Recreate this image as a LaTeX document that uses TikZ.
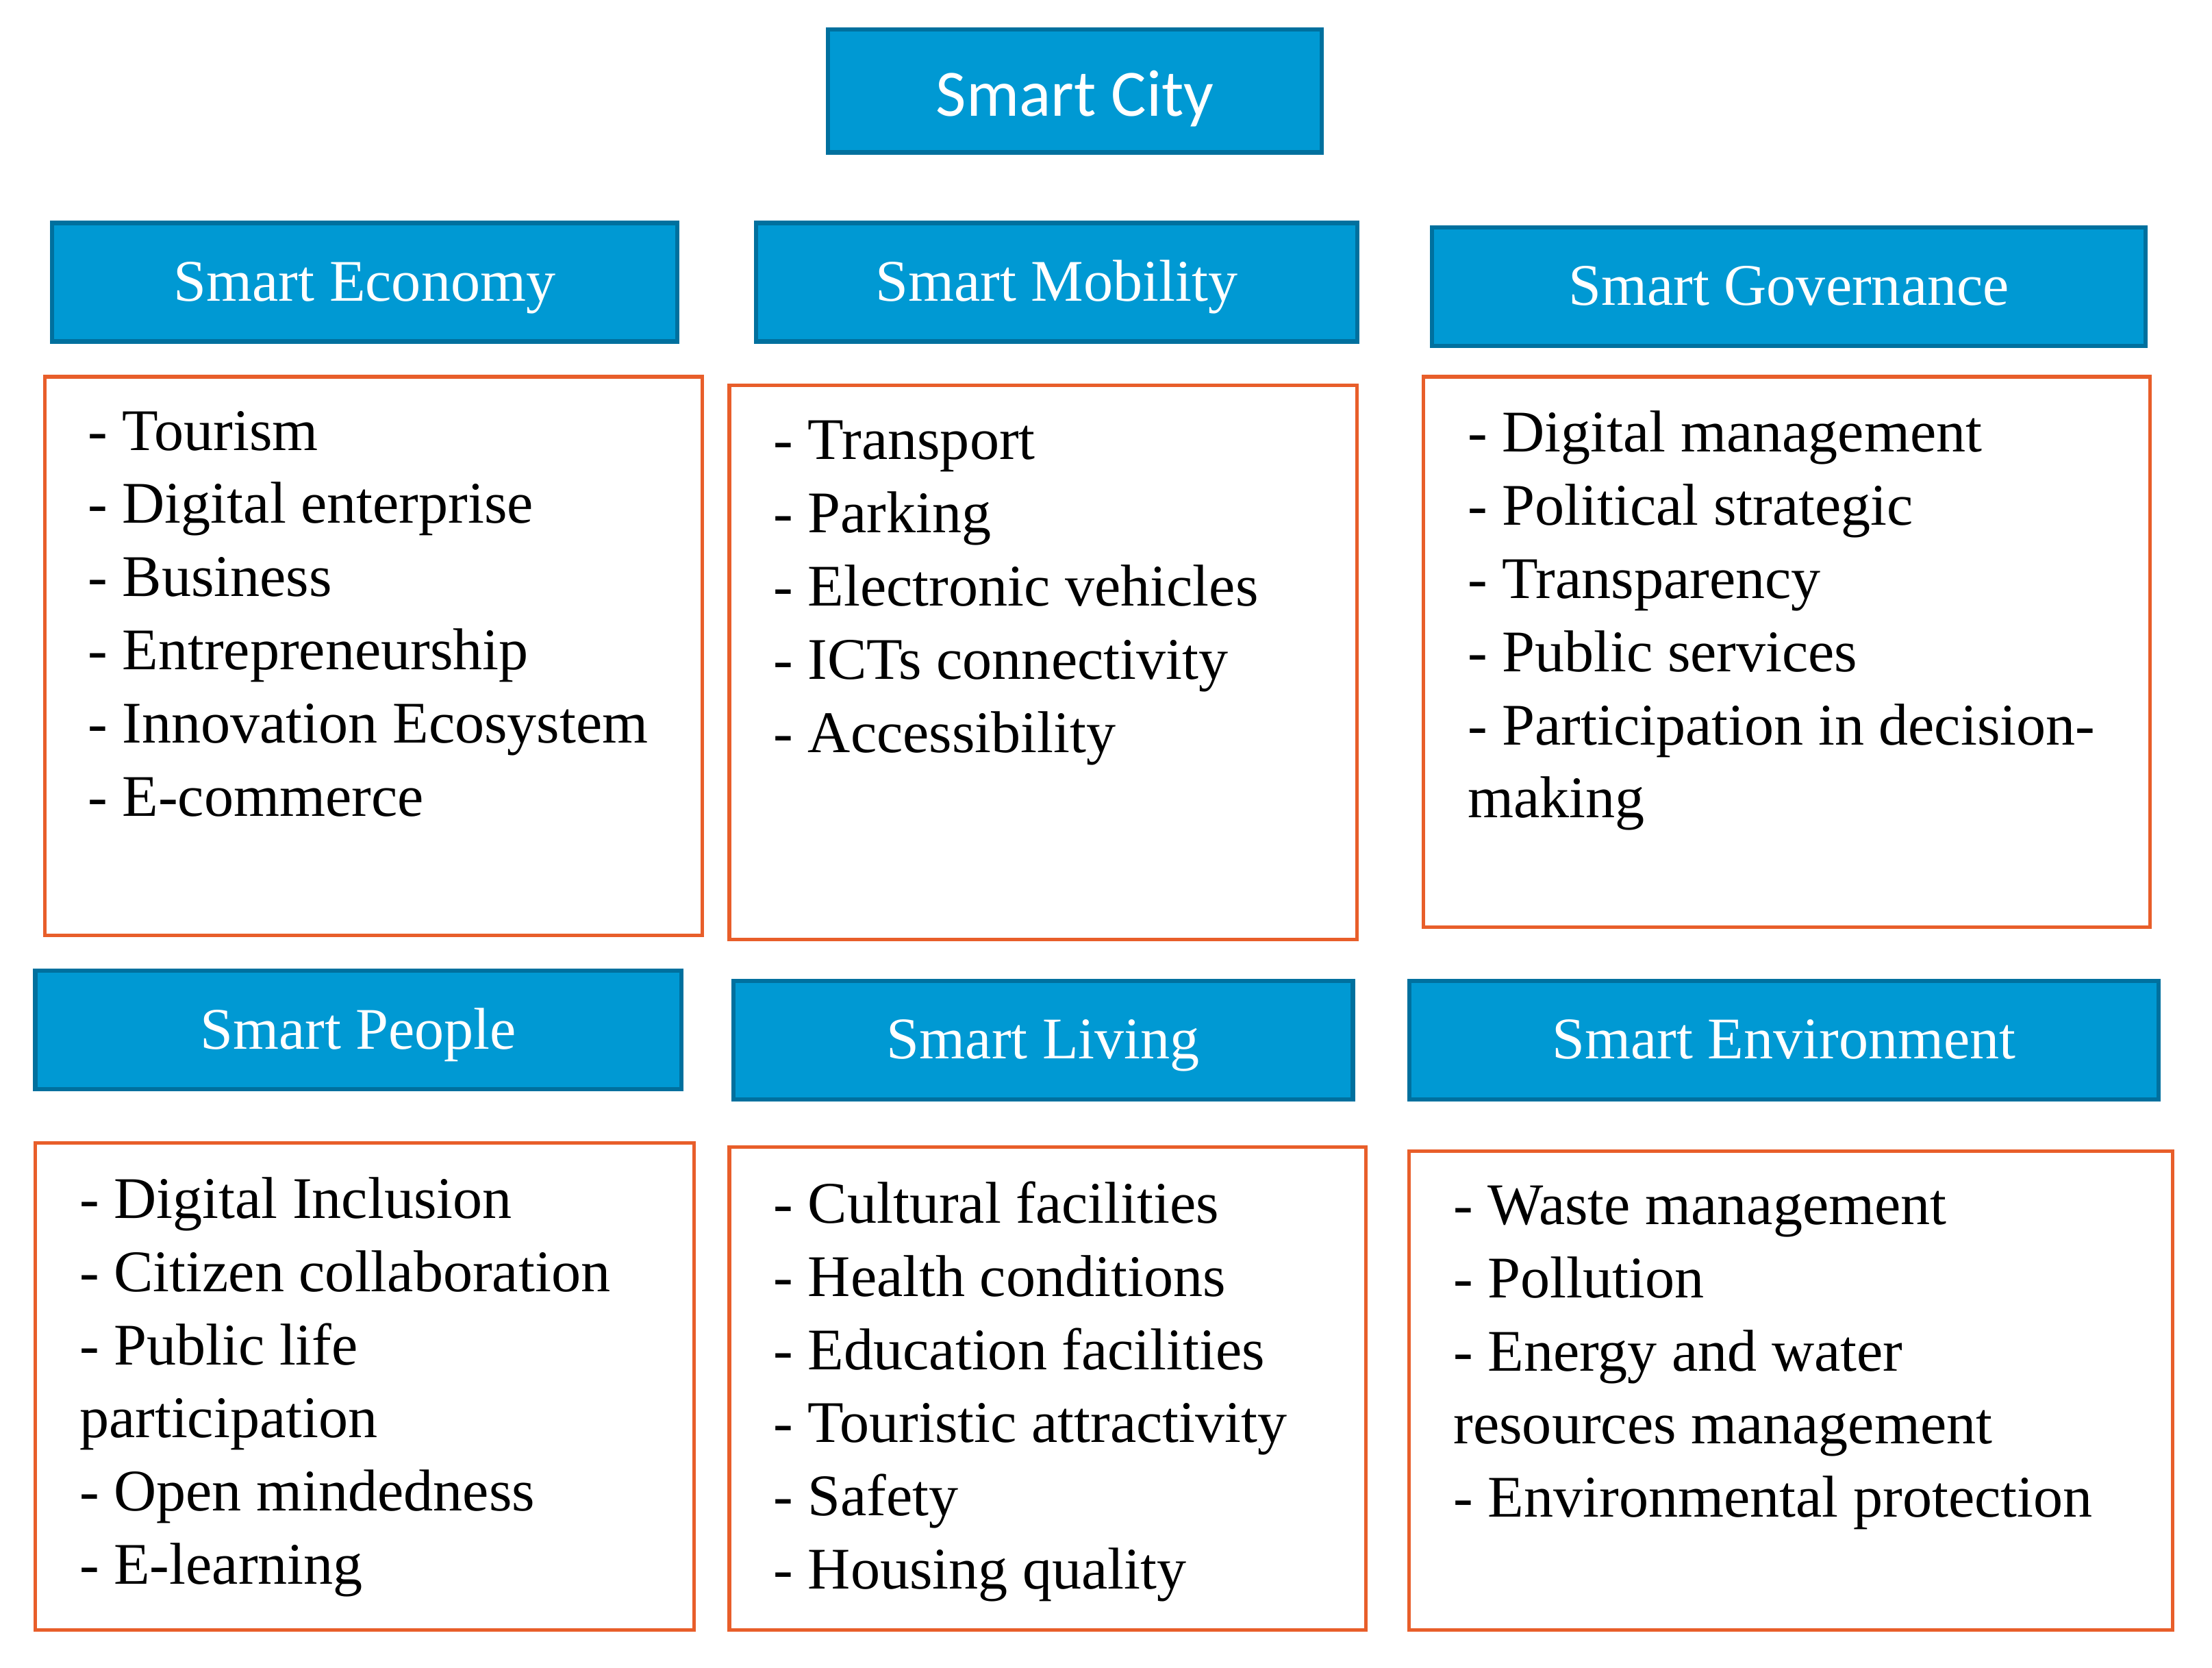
\documentclass[tikz,border=0pt]{standalone}
\usepackage{fontspec}
\setmainfont{Liberation Serif}
\newfontfamily\cityfont{Carlito}
\usetikzlibrary{fit}
\definecolor{hdrfill}{RGB}{0,153,211}
\definecolor{hdrborder}{RGB}{0,112,158}
\definecolor{orangeb}{RGB}{232,94,42}
\begin{document}
\begin{tikzpicture}[x=0.02cm,y=-0.02cm,
 hdr/.style={draw=hdrborder, fill=hdrfill, line width=1.7pt, inner sep=0pt},
 hdrtxt/.style={anchor=base, inner sep=0pt, yshift=-7.6pt, text=white, font=\fontsize{23.8}{28}\selectfont},
 citytxt/.style={anchor=base, inner sep=0pt, yshift=-10.2pt, text=white, font=\cityfont\fontsize{26.7}{30}\selectfont},
 cbox/.style={draw=orangeb, line width=1.4pt, inner sep=0pt},
 items/.style={anchor=north west, inner sep=0pt, align=left, font=\fontsize{23.8}{29.5}\selectfont}]
\useasboundingbox[fill=white] (0,0) rectangle (1568,1182);

\node[hdr, fit={(587,21) (937,108)}] (city) {};
\node[citytxt] (citylbl) at (city.center) {Smart City};

\node[hdr, fit={(37,158) (480,242)}] (econ) {};
\node[hdr, fit={(536,158) (962,242)}] (mob) {};
\node[hdr, fit={(1015,161) (1521,245)}] (gov) {};
\node[hdrtxt] (econlbl) at (econ.center) {Smart Economy};
\node[hdrtxt] (moblbl) at (mob.center) {Smart Mobility};
\node[hdrtxt] (govlbl) at (gov.center) {Smart Governance};

\node[cbox, fit={(32,267) (498,663)}] (econbox) {};
\node[cbox, fit={(517,273) (962,666)}] (mobbox) {};
\node[cbox, fit={(1009,267) (1524,657)}] (govbox) {};

\node[hdr, fit={(25,688) (483,772)}] (peop) {};
\node[hdr, fit={(520,695) (959,779)}] (liv) {};
\node[hdr, fit={(999,695) (1530,779)}] (env) {};
\node[hdrtxt] (peoplbl) at (peop.center) {Smart People};
\node[hdrtxt] (livlbl) at (liv.center) {Smart Living};
\node[hdrtxt] (envlbl) at (env.center) {Smart Environment};

\node[cbox, fit={(25,810) (492,1155)}] (peopbox) {};
\node[cbox, fit={(517,813) (968,1155)}] (livbox) {};
\node[cbox, fit={(999,816) (1540,1155)}] (envbox) {};

\node[items] (econtxt) at (62,291) {- Tourism\\- Digital enterprise\\- Business\\- Entrepreneurship\\- Innovation Ecosystem\\- E-commerce};
\node[items] (mobtxt) at (548,298) {- Transport\\- Parking\\- Electronic vehicles\\- ICTs connectivity\\- Accessibility};
\node[items] (govtxt) at (1040,291) {- Digital management\\- Political strategic\\- Transparency\\- Public services\\- Participation in decision-\\making};
\node[items] (peoptxt) at (56,834) {- Digital Inclusion\\- Citizen collaboration\\- Public life\\participation\\- Open mindedness\\- E-learning};
\node[items] (livtxt) at (548,837) {- Cultural facilities\\- Health conditions\\- Education facilities\\- Touristic attractivity\\- Safety\\- Housing quality};
\node[items] (envtxt) at (1030,840) {- Waste management\\- Pollution\\- Energy and water\\resources management\\- Environmental protection};
\end{tikzpicture}
\end{document}
